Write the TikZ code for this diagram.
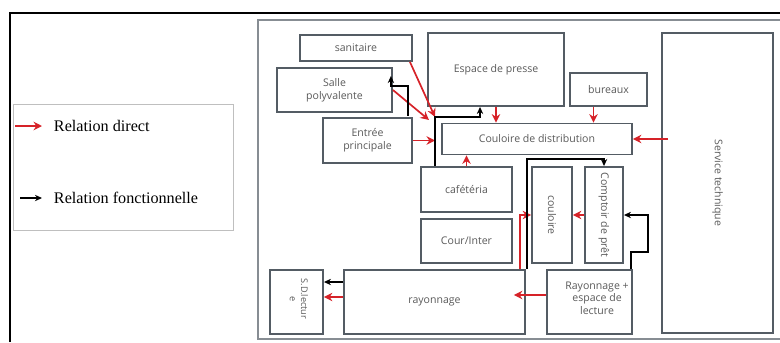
\documentclass[tikz,border=0pt]{standalone}
\usepackage{fontspec}
\setmainfont{Liberation Serif}
\newfontfamily\planfont{Open Sans}
\usetikzlibrary{arrows.meta,calc}
\definecolor{murs}{RGB}{84,92,100}
\definecolor{rouge}{RGB}{214,34,40}
\definecolor{texte}{RGB}{90,90,90}
\tikzset{
  room/.style={draw=murs,line width=1.3pt,fill=white,inner sep=1pt,align=center,text=texte,font=\planfont\fontsize{7.5}{9}\selectfont},
  lbl/.style={inner sep=0pt,align=center,text=texte,font=\planfont\fontsize{7.5}{9}\selectfont},
  direct/.style={rouge,line width=1.2pt,-{Stealth[length=6pt,width=6pt]}},
  fonc/.style={black,line width=1pt,-{Stealth[length=5pt,width=4.5pt]}}
}
\begin{document}
\begin{tikzpicture}[x=0.025cm,y=-0.025cm]
\useasboundingbox (0,0) rectangle (780,342);
\draw[line width=0.9pt] (10,342) -- (10,13) -- (781,13);
\draw[murs!70,line width=1pt] (258,20) rectangle (782,339);
\node[draw=black!25,line width=0.6pt,minimum width=5.5cm,minimum height=3.15cm] (legende) at (123,167) {};
\node[anchor=west,font=\fontsize{11.5}{13}\selectfont] (ldirect) at (49,126) {Relation direct};
\node[anchor=west,font=\fontsize{11.5}{13}\selectfont] (lfonc) at (49,198) {Relation fonctionnelle};
\draw[direct] ($(ldirect.west)+(-34,0)$) -- ($(ldirect.west)+(-7,0)$);
\draw[fonc] ($(lfonc.west)+(-29,0)$) -- ($(lfonc.west)+(-7,0)$);

\node[room,minimum width=2.8cm,minimum height=0.65cm] (sani) at (356,48) {sanitaire};
\node[room,minimum width=2.875cm,minimum height=1.1cm] (salle) at (334.5,90) {Salle\\polyvalente};
\node[room,minimum width=2.225cm,minimum height=1.125cm] (entree) at (367.5,140.5) {Entrée\\principale};
\node[room,minimum width=3.4cm,minimum height=1.825cm] (presse) at (496,69.5) {Espace de presse};
\node[room,minimum width=1.925cm,minimum height=0.825cm] (bureaux) at (608.5,89.5) {bureaux};
\node[room,minimum width=4.75cm,minimum height=0.775cm] (couloir) at (537,139) {Couloire de distribution};
\node[room,minimum width=2.775cm,minimum height=7.5cm] (service) at (717.5,183) {};
\node[lbl,rotate=-90] (tservice) at (service) {Service technique};
\node[room,minimum width=2.275cm,minimum height=1.125cm] (cafe) at (466.5,189.5) {cafétéria};
\node[room,minimum width=2.275cm,minimum height=1.1cm] (cour) at (466.5,241) {Cour/Inter};
\node[room,minimum width=1.325cm,minimum height=1.6cm] (sdl) at (296.5,302) {};
\node[lbl,rotate=-90,font=\planfont\fontsize{6.5}{8}\selectfont] (tsdl) at (299,299) {S.D.lectur\\e};
\node[room,minimum width=4.525cm,minimum height=1.6cm] (rayon) at (434.5,302) {rayonnage};
\node[room,minimum width=1cm,minimum height=2.4cm] (couloire) at (552,215) {};
\node[lbl,rotate=-90] (tcouloire) at (couloire) {couloire};
\node[room,minimum width=0.95cm,minimum height=2.4cm] (comptoir) at (604,215) {};
\node[lbl,rotate=-90] (tcomptoir) at (comptoir) {Comptoir de prêt};
\node[room,minimum width=2.125cm,minimum height=1.6cm] (rayesp) at (589.5,302) {};
\node[lbl] (trayesp) at (597,298) {Rayonnage +\\espace de\\lecture};
\coordinate (jt) at (435,117);

\draw[direct] ($(sani.south east)+(-3,0)$) -- (jt);
\draw[direct] (salle.east) -- ($(jt)+(-6,3)$);
\draw[direct] (entree.east) -- (entree.east -| jt);
\draw[direct] (presse.south) -- (presse.south |- couloir.north);
\draw[direct] ($(bureaux.south)+(-15,0)$) -- ($(bureaux.south |- couloir.north)+(-15,0)$);
\draw[direct] ([xshift=5pt]couloir.east -| service.west) -- (couloir.east);
\draw[direct] (cafe.north) -- (cafe.north |- couloir.south);
\draw[direct] (comptoir.west) -- (couloire.east);
\draw[direct] ($(rayon.north east)+(-6,0)$) |- (couloire.west);
\draw[direct] ($(rayesp.west)+(0,-7)$) -- ($(rayon.east)+(-12,-7)$);
\draw[direct] ($(rayon.west)+(0,-5)$) -- ($(sdl.east)+(0,-5)$);

\draw[fonc,{Stealth[length=5pt,width=4.5pt]}-] ($(salle.east)+(-2,-14)$) |- ($(entree.north east)+(-5,-31)$) -- ($(entree.north east)+(-5,-1)$);
\draw[fonc,{Stealth[length=5pt,width=4.5pt]}-] ($(presse.south)+(-16,0)$) |- (jt) -- (jt |- cafe.north);
\draw[fonc,{Stealth[length=5pt,width=4.5pt]}-] (comptoir.east) -- ++(24,0) -- ++(0,37) -| ($(rayesp.north east)+(-2,0)$);
\draw[fonc,{Stealth[length=5pt,width=4.5pt]}-] ($(sdl.east)+(0,-20)$) -- ($(rayon.west)+(0,-20)$);
\draw[fonc] ($(rayon.north east)+(1,0)$) -- ++(0,-110) -| (comptoir.north);
\end{tikzpicture}
\end{document}
